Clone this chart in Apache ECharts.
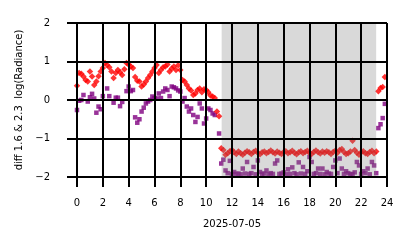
<!DOCTYPE html>
<html><head><meta charset="utf-8">
<script src="https://cdn.jsdelivr.net/npm/echarts@6/dist/echarts.min.js"></script>
<style>html,body{margin:0;padding:0;background:#fff}#c{width:414px;height:248px}</style>
</head><body><div id="c"></div>
<script>
// sampling: one value every 10 minutes starting at 00:00 (hours)
const startHour = 0;
const stepMinutes = 10;
const dateLabel = '2025-07-05';
const yName = 'diff 1.6 & 2.3  log(Radiance)';
const shadedSpan = [11.2, 23.16];
const xTicks = [0, 2, 4, 6, 8, 10, 12, 14, 16, 18, 20, 22, 24];
const yTicks = [-2, -1, 0, 1, 2];

const redValues = [
  0.37,0.70,0.68,0.61,0.52,0.48,0.74,0.61,0.39,0.48,0.62,0.74,
  0.83,0.96,0.91,0.85,0.74,0.57,0.70,0.78,0.72,0.65,0.80,0.96,
  0.92,0.87,0.83,0.60,0.50,0.48,0.35,0.40,0.48,0.57,0.65,0.74,
  0.83,0.91,0.70,0.78,0.85,0.87,0.92,0.74,0.82,0.87,0.78,0.90,
  0.78,0.52,0.48,0.39,0.30,0.25,0.13,0.17,0.26,0.30,0.20,0.28,
  0.26,0.20,0.12,0.09,0.05,-0.30,-0.42,
  -1.25,-1.30,-1.42,-1.38,-1.33,-1.30,-1.36,-1.40,-1.34,-1.38,-1.42,-1.37,-1.33,
  -1.36,-1.40,-1.35,-1.32,-1.37,-1.41,-1.36,-1.34,-1.38,-1.35,-1.31,-1.36,-1.39,
  -1.34,-1.37,-1.40,-1.35,-1.33,-1.38,-1.36,-1.32,-1.37,-1.41,-1.36,-1.33,-1.38,
  -1.35,-1.32,-1.37,-1.40,-1.35,-1.31,-1.36,-1.39,-1.34,-1.37,-1.33,-1.36,-1.40,
  -1.35,-1.32,-1.37,-1.30,-1.27,-1.35,-1.40,-1.38,-1.34,-1.06,-1.30,-1.37,-1.42,
  -1.36,-1.33,-1.38,-1.40,-1.35,-1.32,-1.38,-1.34,
  0.23,0.31,0.34,0.60
];

const purpleValues = [
  -0.26,-0.02,0.00,0.13,null,-0.04,0.07,0.16,0.04,-0.33,-0.17,-0.24,
  0.10,null,0.30,0.10,null,-0.07,0.06,0.06,-0.16,-0.05,null,0.23,
  0.35,0.23,0.26,-0.45,-0.59,-0.50,-0.30,-0.20,-0.09,-0.04,0.00,0.09,
  0.05,0.04,0.17,0.05,0.22,0.30,0.26,0.10,0.35,0.33,0.30,0.25,
  0.22,-0.04,0.05,-0.17,-0.30,-0.22,-0.39,-0.57,-0.44,-0.09,-0.22,-0.61,
  -0.48,-0.22,-0.26,-0.35,-0.39,null,-0.87,
  -1.65,-1.55,-1.83,-1.90,-1.58,-1.92,-1.87,-1.92,-1.91,-1.93,-1.78,-1.91,-1.61,
  -1.92,-1.90,-1.74,-1.93,-1.57,-1.87,-1.92,-1.91,-1.83,-1.93,-1.90,-1.92,-1.65,
  -1.57,-1.92,-1.91,-1.88,-1.93,-1.80,-1.92,-1.75,-1.90,-1.93,-1.62,-1.91,-1.74,
  -1.92,-1.85,-1.48,-1.61,-1.92,-1.90,-1.78,-1.92,-1.78,-1.93,-1.87,-1.91,-1.92,
  -1.74,-1.57,-1.90,-1.52,-1.78,-1.92,-1.85,-1.90,-1.93,-1.92,-1.88,-1.61,-1.70,
  -1.92,-1.85,-1.90,-1.78,-1.93,-1.61,-1.70,-1.90,
  -0.73,-0.63,-0.47,-0.10
];

const hourAt = i => startHour + i * stepMinutes / 60;
const redData = redValues.map((v, i) => [hourAt(i), v]).filter(d => d[1] !== null);
const purpleData = purpleValues.map((v, i) => [hourAt(i), v]).filter(d => d[1] !== null);

const FONT = 'DejaVu Sans';
const black = '#000';

const gridLines = xTicks.map(t => ({xAxis: t})).concat(yTicks.map(t => ({yAxis: t})));

const makeAxisParts = () => ({
  axisLine: {show: true, onZero: false, lineStyle: {color: black, width: 2}},
  axisTick: {show: true, inside: false, interval: 0, length: 10, lineStyle: {color: black, width: 2}},
  splitLine: {show: true, showMinLine: true, showMaxLine: true, lineStyle: {color: black, width: 2}}
});

const chart = echarts.init(document.getElementById('c'), null, {renderer: 'canvas'});
chart.setOption({
  animation: false,
  backgroundColor: '#fff',
  grid: {left: 77, right: 27, top: 23, bottom: 71, containLabel: false},
  xAxis: Object.assign({
    type: 'value', min: 0, max: 24, interval: 2,
    name: dateLabel, nameLocation: 'middle', nameGap: 42,
    nameTextStyle: {fontFamily: FONT, fontSize: 10, color: black},
    axisLabel: {fontFamily: FONT, fontSize: 10, color: black, margin: 21}
  }, makeAxisParts()),
  yAxis: Object.assign({
    type: 'value', min: -2, max: 2, interval: 1,
    name: yName, nameLocation: 'middle', nameGap: 49, nameRotate: 90,
    nameTextStyle: {fontFamily: FONT, fontSize: 10, color: black},
    axisLabel: {fontFamily: FONT, fontSize: 10, color: black, margin: 27,
      formatter: v => String(v).replace('-', '\u2212')}
  }, makeAxisParts()),
  series: [
    {type: 'scatter', name: 'purple', data: purpleData, symbol: 'rect', symbolSize: 4.5,
      itemStyle: {color: '#800080'}, z: 2, silent: true},
    {type: 'scatter', name: 'red', data: redData, symbol: 'diamond', symbolSize: 6.5,
      itemStyle: {color: '#ff0000'}, z: 2, silent: true,
      markArea: {silent: true, z: 3, itemStyle: {color: 'rgba(128,128,128,0.3)'},
        data: [[{xAxis: shadedSpan[0]}, {xAxis: shadedSpan[1]}]]},
      markLine: {silent: true, z: 6, symbol: ['none', 'none'], animation: false,
        label: {show: false}, emphasis: {disabled: true},
        lineStyle: {color: black, width: 2, type: 'solid', opacity: 1},
        data: gridLines}}
  ]
});
</script>
</body></html>
